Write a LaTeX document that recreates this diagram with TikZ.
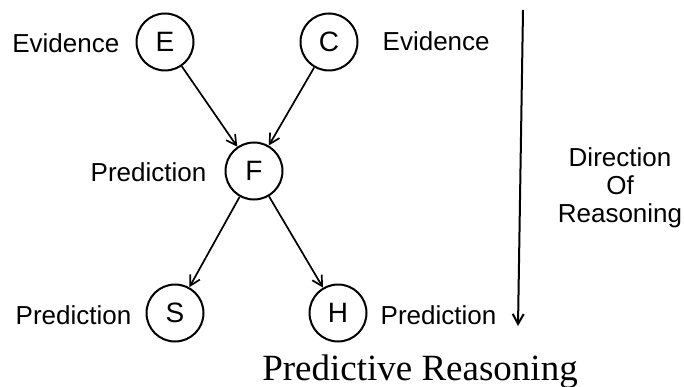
\documentclass[tikz,border=0pt]{standalone}
\usepackage{fontspec}
\setmainfont{Liberation Serif}
\setsansfont{Liberation Sans}
\usetikzlibrary{arrows.meta, positioning}

\begin{document}
\begin{tikzpicture}[
    x=1pt, y=-1pt,
    var/.style={circle, minimum size=57pt, inner sep=0pt, draw=black, line width=2pt, font=\sffamily\fontsize{28}{30}\selectfont},
    lbl/.style={inner sep=0pt, font=\sffamily\fontsize{26}{28}\selectfont},
    link/.style={-{Straight Barb[length=10pt, width=11pt]}, line width=1.7pt}
]
\useasboundingbox (0,0) rectangle (684,387);
\node[var] (E) at (165, 42) {E};
\node[var] (C) at (329, 42) {C};
\node[var] (F) at (254, 171) {F};
\node[var] (S) at (175, 313) {S};
\node[var] (H) at (338, 313) {H};
\node[lbl, left=16pt of E, yshift=-1pt] (evE) {Evidence};
\node[lbl, right=24pt of C, yshift=1pt] (evC) {Evidence};
\node[lbl, left=18pt of F, yshift=-1pt] (prF) {Prediction};
\node[lbl, left=14pt of S, yshift=-2pt] (prS) {Prediction};
\node[lbl, right=13pt of H, yshift=-2pt] (prH) {Prediction};
\node[lbl, align=center] (dir) at (620, 188) {Direction\\Of\\Reasoning};
\node[font=\rmfamily\fontsize{37}{40}\selectfont, inner sep=0pt, anchor=base] (title) at (420, 380) {Predictive Reasoning};
\coordinate (dtop) at (523, 10);
\coordinate (dbot) at (518, 326);
\draw[link] (E) -- (F);
\draw[link] (C) -- (F);
\draw[link] (F) -- (S);
\draw[link] (F) -- (H);
\draw[link, line width=2pt] (dtop) -- (dbot);
\end{tikzpicture}
\end{document}
